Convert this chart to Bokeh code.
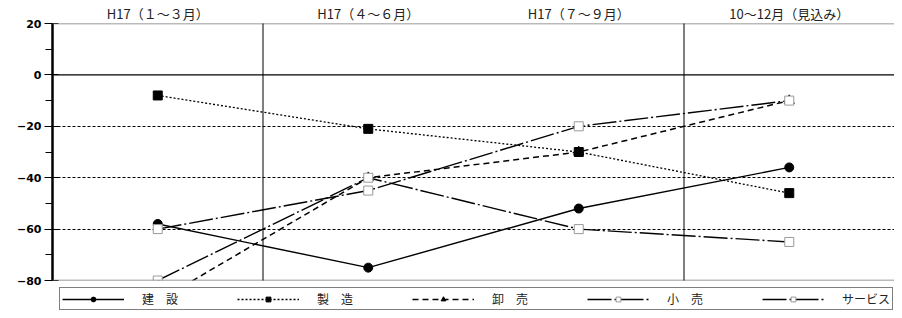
from bokeh.plotting import figure
from bokeh.models import FactorRange, Range1d, Span, FixedTicker, Legend, LegendItem
from bokeh.embed import file_html
from bokeh.resources import INLINE

# ---- data ----
periods = ["H17（１～３月）", "H17（４～６月）", "H17（７～９月）", "10～12月（見込み）"]
kensetsu = [-58, -75, -52, -36]   # 建設
seizo = [-8, -21, -30, -46]       # 製造
oroshi = [-88, -40, -30, -10]     # 卸売
kouri = [-80, -40, -60, -65]      # 小売
service = [-60, -45, -20, -10]    # サービス
series_names = ["建　設", "製　造", "卸　売", "小　売", "サービス"]
y_ticks = [-80, -60, -40, -20, 0, 20]
y_minor = [-70, -50, -30, -10, 10]
grid_ticks = [-60, -40, -20]

p = figure(x_range=FactorRange(*periods), y_range=Range1d(-80, 20),
           frame_width=842, frame_height=257, output_backend="svg", toolbar_location=None,
           x_axis_location="above", min_border_left=52, min_border_right=0,
           min_border_top=0, min_border_bottom=0)
p.outline_line_color = None
p.background_fill_color = "white"
p.border_fill_color = "white"

# top axis (period labels)
xa = p.xaxis[0]
xa.axis_line_color = None
xa.major_tick_line_color = None
xa.minor_tick_line_color = None
xa.major_label_standoff = -5
xa.major_label_text_font = "Noto Sans CJK JP"
xa.major_label_text_font_size = "13px"
xa.major_label_text_color = "#222222"

# left axis
ya = p.yaxis[0]
ya.ticker = FixedTicker(ticks=y_ticks, minor_ticks=y_minor)
ya.axis_line_width = 2.5
ya.axis_line_color = "black"
ya.major_tick_out = 8
ya.major_tick_in = 6
ya.major_tick_line_width = 1.2
ya.minor_tick_out = 7
ya.minor_tick_in = 0
ya.minor_tick_line_width = 1.2
ya.major_label_standoff = 3
ya.major_label_text_font = "DejaVu Sans"
ya.major_label_text_font_style = "bold"
ya.major_label_text_font_size = "11px"
ya.major_label_text_color = "black"

# grids
p.xgrid.visible = False
p.ygrid.ticker = FixedTicker(ticks=grid_ticks)
p.ygrid.grid_line_color = "black"
p.ygrid.grid_line_dash = "3 2"
p.ygrid.grid_line_width = 1

p.add_layout(Span(location=0, dimension="width", line_color="black", line_width=1.2))
p.add_layout(Span(location=20, dimension="width", line_color="#777777", line_width=1.5))
p.add_layout(Span(location=-80, dimension="width", line_color="#777777", line_width=1.5))
for loc in (1, 3):
    p.add_layout(Span(location=loc, dimension="height", line_color="#000000",
                      line_width=2, line_dash="1 1"))

# series
items = []
lr = p.line(periods, kensetsu, line_color="black", line_width=1.4)
sr = p.scatter(periods, kensetsu, marker="circle", size=9, fill_color="black", line_color="black")
items.append(LegendItem(label=series_names[0], renderers=[lr, sr]))

lr = p.line(periods, seizo, line_color="black", line_width=1.3, line_dash="2 2")
sr = p.scatter(periods, seizo, marker="square", size=9, fill_color="black", line_color="black")
items.append(LegendItem(label=series_names[1], renderers=[lr, sr]))

lr = p.line(periods, oroshi, line_color="black", line_width=1.5, line_dash="6 4")
sr = p.scatter(periods, oroshi, marker="triangle", size=10, fill_color="black", line_color="black")
items.append(LegendItem(label=series_names[2], renderers=[lr, sr]))

lr = p.line(periods, kouri, line_color="black", line_width=1.4, line_dash="24 3 2 3")
sr = p.scatter(periods, kouri, marker="square", size=9, fill_color="white", line_color="#999999")
items.append(LegendItem(label=series_names[3], renderers=[lr, sr]))

lr = p.line(periods, service, line_color="black", line_width=1.4, line_dash="24 3 2 3")
sr = p.scatter(periods, service, marker="square", size=9, fill_color="white", line_color="#999999")
items.append(LegendItem(label=series_names[4], renderers=[lr, sr]))

legend = Legend(items=items, orientation="horizontal", location="top_left",
                border_line_color="black", border_line_width=1.5,
                background_fill_color="white", background_fill_alpha=1,
                padding=2, spacing=59, margin=7,
                glyph_width=62, glyph_height=12, label_standoff=18,
                label_text_font="Noto Sans CJK JP", label_text_font_size="12px",
                label_height=12, label_text_color="#222222")
p.add_layout(legend, "below")

open("out.html", "w").write(file_html(p, INLINE))
